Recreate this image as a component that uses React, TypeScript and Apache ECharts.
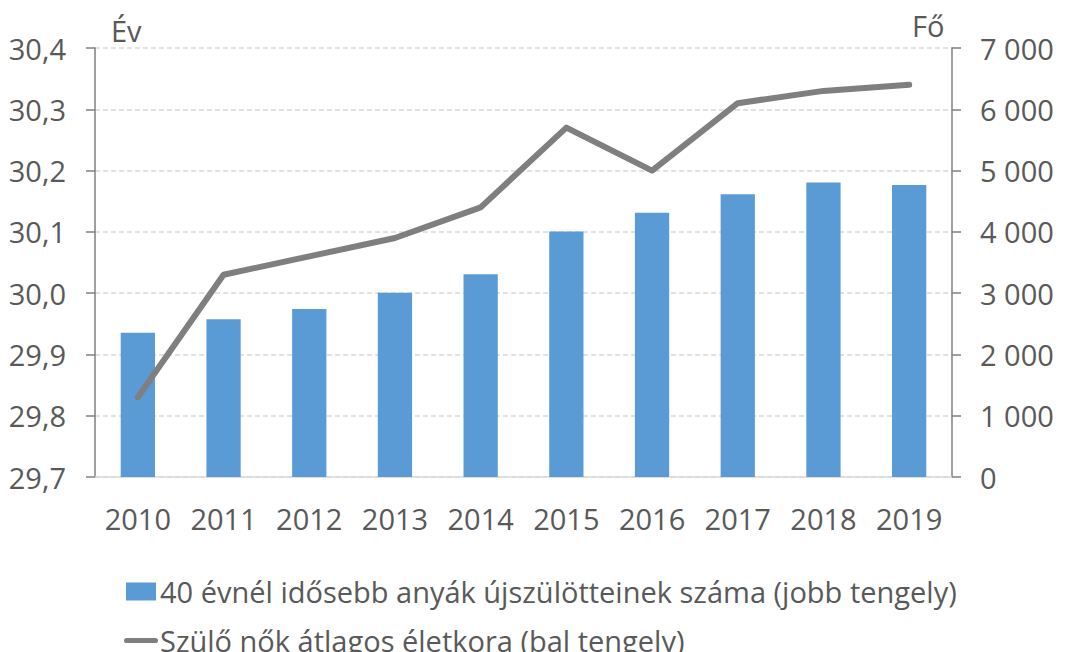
import React, { useEffect, useRef } from "react";
import * as echarts from "echarts";

const years = ["2010", "2011", "2012", "2013", "2014", "2015", "2016", "2017", "2018", "2019"];
const births40plus = [2355, 2575, 2740, 3005, 3310, 4005, 4310, 4615, 4805, 4765];
const avgAge = [29.83, 30.03, 30.06, 30.09, 30.14, 30.27, 30.2, 30.31, 30.33, 30.34];
const barName = "40 évnél idősebb anyák újszülötteinek száma (jobb tengely)";
const lineName = "Szülő nők átlagos életkora (bal tengely)";
const leftUnit = "Év";
const rightUnit = "Fő";

const FONT = "'Open Sans', 'Noto Sans', sans-serif";
const TXT = "#595959";
const FS = 29;

export default function App() {
  const ref = useRef<HTMLDivElement>(null);
  useEffect(() => {
    if (!ref.current) return;
    const chart = echarts.init(ref.current, null, { renderer: "svg" });
    chart.setOption({
      animation: false,
      backgroundColor: "#ffffff",
      textStyle: { fontFamily: FONT },
      grid: { left: 95, right: 121, top: 48, bottom: 175, containLabel: false },
      legend: [
        {
          data: [{ name: barName, icon: "rect" }],
          left: 121,
          top: 572,
          itemWidth: 30,
          itemHeight: 18,
          itemGap: 4,
          textStyle: { color: TXT, fontSize: FS, fontFamily: FONT, padding: [0, 0, 0, -1] },
        },
        {
          data: [{ name: lineName, icon: "path://M3,0 H37 A3,3 0 0 1 37,6 H3 A3,3 0 0 1 3,0 Z" }],
          left: 119,
          top: 621,
          itemWidth: 34,
          itemHeight: 6,
          textStyle: { color: TXT, fontSize: FS, fontFamily: FONT, padding: [0, 0, 0, -3] },
        },
      ],
      xAxis: {
        type: "category",
        data: years,
        axisLine: { show: true, lineStyle: { color: "#d9d9d9", width: 1.5 } },
        axisTick: { show: false },
        axisLabel: { color: TXT, fontSize: FS, fontFamily: FONT, margin: 27, interval: 0, hideOverlap: false },
      },
      yAxis: [
        {
          type: "value",
          min: 29.7,
          max: 30.4,
          interval: 0.1,
          position: "left",
          axisLine: { show: true, lineStyle: { color: "#808080", width: 1.5 } },
          axisTick: { show: true, inside: false, length: 9, lineStyle: { color: "#808080", width: 1.5 } },
          axisLabel: {
            color: TXT,
            fontSize: FS,
            fontFamily: FONT,
            margin: 29,
            formatter: (v: number) => v.toFixed(1).replace(".", ","),
          },
          splitLine: { show: true, lineStyle: { color: "#d9d9d9", width: 1.5, type: [5, 3] } },
        },
        {
          type: "value",
          min: 0,
          max: 7000,
          interval: 1000,
          position: "right",
          axisLine: { show: true, lineStyle: { color: "#808080", width: 1.5 } },
          axisTick: { show: true, inside: false, length: 9, lineStyle: { color: "#808080", width: 1.5 } },
          axisLabel: {
            color: TXT,
            fontSize: FS,
            fontFamily: FONT,
            margin: 28,
            formatter: (v: number) => String(v).replace(/\B(?=(\d{3})+(?!\d))/g, " "),
          },
          splitLine: { show: false },
        },
      ],
      graphic: [
        { type: "text", left: 111, top: 16, style: { text: leftUnit, fill: TXT, font: `${FS}px ${FONT}` } },
        { type: "text", left: 912, top: 11, style: { text: rightUnit, fill: TXT, font: `${FS}px ${FONT}` } },
      ],
      series: [
        {
          name: barName,
          type: "bar",
          yAxisIndex: 1,
          data: births40plus,
          barWidth: "40%",
          itemStyle: { color: "#5b9bd5" },
          z: 2,
        },
        {
          name: lineName,
          type: "line",
          yAxisIndex: 0,
          data: avgAge,
          symbol: "none",
          lineStyle: { color: "#7f7f7f", width: 6, cap: "round", join: "round" },
          itemStyle: { color: "#7f7f7f" },
          z: 3,
        },
      ],
    });
    return () => chart.dispose();
  }, []);
  return <div ref={ref} style={{ position: "fixed", left: 0, top: 0, width: 1073, height: 652 }} />;
}
